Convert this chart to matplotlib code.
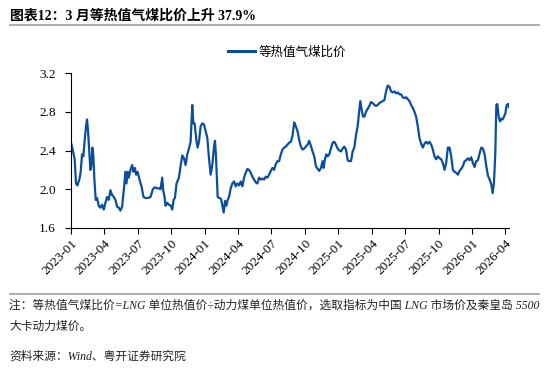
#!/usr/bin/env python3
"""Gas/coal equal-calorific price ratio, 2023-01 .. 2026-04, report-style figure."""
import matplotlib
matplotlib.use("Agg")
import matplotlib.pyplot as plt
from matplotlib.lines import Line2D

# x = months since 2023-01 (fractional), y = ratio
MONTHS = [
    0.00, 0.15, 0.33, 0.45, 0.57, 0.75, 0.87, 0.99, 1.11, 1.23, 1.35, 1.44, 1.53,
    1.65, 1.74, 1.83, 1.92, 2.01, 2.10, 2.22, 2.34, 2.49, 2.64, 2.79, 2.94, 3.09,
    3.24, 3.39, 3.54, 3.69, 3.84, 3.99, 4.14, 4.29, 4.44, 4.59, 4.74, 4.89, 4.98,
    5.10, 5.19, 5.34, 5.49, 5.61, 5.73, 5.85, 5.97, 6.15, 6.33, 6.51, 6.69, 6.93,
    7.14, 7.35, 7.53, 7.74, 7.89, 8.04, 8.19, 8.28, 8.40, 8.49, 8.64, 8.79, 8.97,
    9.09, 9.21, 9.33, 9.48, 9.69, 9.84, 9.99, 10.14, 10.29, 10.44, 10.59, 10.74,
    10.89, 10.98, 11.10, 11.25, 11.37, 11.49, 11.64, 11.79, 11.94, 12.09, 12.24,
    12.39, 12.54, 12.69, 12.84, 12.93, 13.02, 13.17, 13.32, 13.47, 13.59, 13.71,
    13.83, 13.95, 14.07, 14.19, 14.34, 14.49, 14.64, 14.79, 14.94, 15.09, 15.24,
    15.39, 15.54, 15.69, 15.84, 15.99, 16.14, 16.29, 16.44, 16.59, 16.74, 16.89,
    17.04, 17.19, 17.34, 17.49, 17.64, 17.79, 17.94, 18.09, 18.24, 18.39, 18.54,
    18.69, 18.84, 18.99, 19.14, 19.29, 19.44, 19.59, 19.74, 19.89, 20.04, 20.19,
    20.34, 20.49, 20.64, 20.79, 20.94, 21.09, 21.24, 21.39, 21.54, 21.69, 21.84,
    21.99, 22.14, 22.29, 22.44, 22.59, 22.68, 22.80, 22.92, 23.04, 23.19, 23.34,
    23.49, 23.64, 23.79, 23.94, 24.09, 24.24, 24.39, 24.54, 24.69, 24.84, 24.99,
    25.14, 25.29, 25.44, 25.59, 25.74, 25.89, 25.98, 26.10, 26.22, 26.34, 26.49,
    26.64, 26.79, 26.94, 27.09, 27.24, 27.39, 27.54, 27.69, 27.84, 27.99, 28.14,
    28.29, 28.44, 28.59, 28.74, 28.89, 29.04, 29.19, 29.34, 29.49, 29.64, 29.79,
    29.94, 30.09, 30.24, 30.39, 30.54, 30.69, 30.84, 30.99, 31.14, 31.29, 31.44,
    31.59, 31.74, 31.89, 32.04, 32.19, 32.34, 32.49, 32.64, 32.79, 32.94, 33.09,
    33.24, 33.39, 33.54, 33.69, 33.84, 33.99, 34.14, 34.29, 34.44, 34.59, 34.74,
    34.89, 35.04, 35.19, 35.34, 35.49, 35.64, 35.79, 35.94, 36.09, 36.24, 36.39,
    36.54, 36.69, 36.84, 36.99, 37.14, 37.29, 37.44, 37.59, 37.74, 37.86, 37.98,
    38.10, 38.19, 38.28, 38.40, 38.52, 38.64, 38.76, 38.88, 39.00, 39.12, 39.24,
    39.33,
]
RATIO = [
    2.48, 2.41, 2.31, 2.06, 2.04, 2.10, 2.18, 2.36, 2.34, 2.51, 2.65, 2.72, 2.60,
    2.37, 2.20, 2.24, 2.43, 2.34, 2.10, 1.89, 1.91, 1.83, 1.81, 1.84, 1.79, 1.86,
    1.92, 1.89, 1.99, 1.94, 1.92, 1.89, 1.82, 1.81, 1.78, 1.82, 1.99, 2.18, 2.06,
    2.18, 2.12, 2.20, 2.25, 2.18, 2.22, 2.15, 2.18, 2.10, 2.03, 1.92, 1.91, 1.91,
    1.92, 2.00, 2.02, 2.01, 2.01, 2.00, 2.12, 1.99, 1.92, 1.83, 1.86, 1.84, 1.83,
    1.79, 1.89, 1.91, 2.06, 2.12, 2.24, 2.35, 2.32, 2.25, 2.36, 2.42, 2.49,
    2.87, 2.68, 2.68, 2.51, 2.43, 2.49, 2.65, 2.68, 2.67, 2.60, 2.53,
    2.32, 2.15, 2.25, 2.44, 2.50, 2.34, 1.92, 1.91, 1.90, 1.83, 1.76,
    1.88, 1.83, 1.89, 1.92, 2.01, 2.06, 2.08, 2.03, 2.06, 2.04, 2.08,
    2.03, 2.12, 2.17, 2.21, 2.20, 2.17, 2.13, 2.10, 2.07, 2.06, 2.12,
    2.10, 2.11, 2.10, 2.13, 2.12, 2.15, 2.19, 2.22, 2.20, 2.26, 2.29,
    2.29, 2.36, 2.41, 2.43, 2.44, 2.46, 2.48, 2.49, 2.55, 2.69, 2.65,
    2.60, 2.51, 2.44, 2.41, 2.42, 2.44, 2.46, 2.50, 2.45, 2.39, 2.34,
    2.24, 2.21, 2.19, 2.22, 2.29, 2.22, 2.31, 2.36, 2.34, 2.36, 2.42,
    2.48, 2.49, 2.46, 2.42, 2.40, 2.39, 2.42, 2.44, 2.41, 2.30, 2.29,
    2.29, 2.39, 2.43, 2.56, 2.65, 2.82, 2.91, 2.82, 2.75, 2.75, 2.80,
    2.83, 2.86, 2.90, 2.89, 2.87, 2.86, 2.87, 2.89, 2.90, 2.91, 2.92,
    3.01, 3.07, 3.06, 3.01, 3.00, 3.01, 2.99, 3.00, 2.98, 2.98, 2.95,
    2.94, 2.95, 2.93, 2.91, 2.87, 2.84, 2.80, 2.75, 2.65, 2.53, 2.47,
    2.43, 2.47, 2.49, 2.47, 2.49, 2.46, 2.41, 2.34, 2.31, 2.34, 2.32,
    2.31, 2.27, 2.20, 2.27, 2.43, 2.43, 2.34, 2.20, 2.18, 2.17, 2.15,
    2.19, 2.21, 2.24, 2.29, 2.30, 2.32, 2.30, 2.33, 2.27, 2.23, 2.29,
    2.30, 2.37, 2.43, 2.42, 2.36, 2.24, 2.14, 2.10, 2.05, 1.96, 2.07,
    2.37, 2.87, 2.88, 2.75, 2.70, 2.73, 2.72, 2.75, 2.78, 2.87, 2.88,
    2.85,
]
TICK_MONTHS = list(range(0, 40, 3))
TICK_LABELS = ["2023-01", "2023-04", "2023-07", "2023-10", "2024-01", "2024-04",
               "2024-07", "2024-10", "2025-01", "2025-04", "2025-07", "2025-10",
               "2026-01", "2026-04"]
Y_TICKS = [1.6, 2.0, 2.4, 2.8, 3.2]

SERIES_NAME = "等热值气煤比价"
TITLE = "图表12：3 月等热值气煤比价上升 37.9%"
NOTE_1 = "注：等热值气煤比价=LNG 单位热值价÷动力煤单位热值价，选取指标为中国 LNG 市场价及秦皇岛 5500"
NOTE_2 = "大卡动力煤价。"
SOURCE = "资料来源：Wind、粤开证券研究院"

LINE_COLOR = "#0b4f9c"
RULE_COLOR = "#a6a6a6"
FONTS = ["Liberation Serif", "Noto Sans CJK SC", "DejaVu Sans"]


def main():
    plt.rcParams["font.family"] = FONTS
    W, H = 550, 370
    fig = plt.figure(figsize=(W / 100, H / 100), dpi=100, facecolor="white")

    # axes box in pixels: left 71, right 509, top 73, bottom 228
    ax = fig.add_axes([71 / W, 1 - 228 / H, (509 - 71) / W, (228 - 73) / H])
    ax.plot(MONTHS, RATIO, color=LINE_COLOR, lw=1.6, label=SERIES_NAME,
            solid_joinstyle="round")

    ax.set_xlim(0, 39.33)
    ax.set_ylim(1.6, 3.2)
    ax.set_xticks(TICK_MONTHS)
    ax.set_xticklabels(TICK_LABELS, rotation=45, ha="right",
                       rotation_mode="anchor", fontsize=9.5)
    ax.set_yticks(Y_TICKS)
    ax.set_yticklabels([f"{v:.1f}" for v in Y_TICKS], fontsize=9.5)
    ax.tick_params(axis="x", direction="out", length=4, width=0.8, pad=3)
    ax.tick_params(axis="y", direction="out", length=4, width=0.8, pad=7)
    for sp in ("top", "right"):
        ax.spines[sp].set_visible(False)
    for sp in ("left", "bottom"):
        ax.spines[sp].set_linewidth(0.8)
        ax.spines[sp].set_color("black")

    leg = ax.legend(loc="center", bbox_to_anchor=(287 / W, 1 - 52 / H),
                    bbox_transform=fig.transFigure, frameon=False,
                    handlelength=2.2, handletextpad=0.25,
                    prop={"family": ["Noto Sans CJK SC"], "size": 9})
    leg.get_lines()[0].set_linewidth(2.2)

    # title + rules
    fig.text(10 / W, 1 - 16 / H, TITLE, fontsize=10, fontweight="bold",
             va="center", ha="left")
    for y in (24.5, 294):
        fig.add_artist(Line2D([10 / W, 539 / W], [1 - y / H, 1 - y / H],
                              color=RULE_COLOR, lw=1.3,
                              transform=fig.transFigure))

    note_kw = dict(fontsize=8.45, style="italic", va="center", ha="left",
                   color="#222222")
    fig.text(9 / W, 1 - 306 / H, NOTE_1, **note_kw)
    fig.text(9 / W, 1 - 327 / H, NOTE_2, **note_kw)
    fig.text(9 / W, 1 - 357 / H, SOURCE, **note_kw)

    fig.savefig("out.png", dpi=100, facecolor="white")
    plt.close(fig)


if __name__ == "__main__":
    main()
